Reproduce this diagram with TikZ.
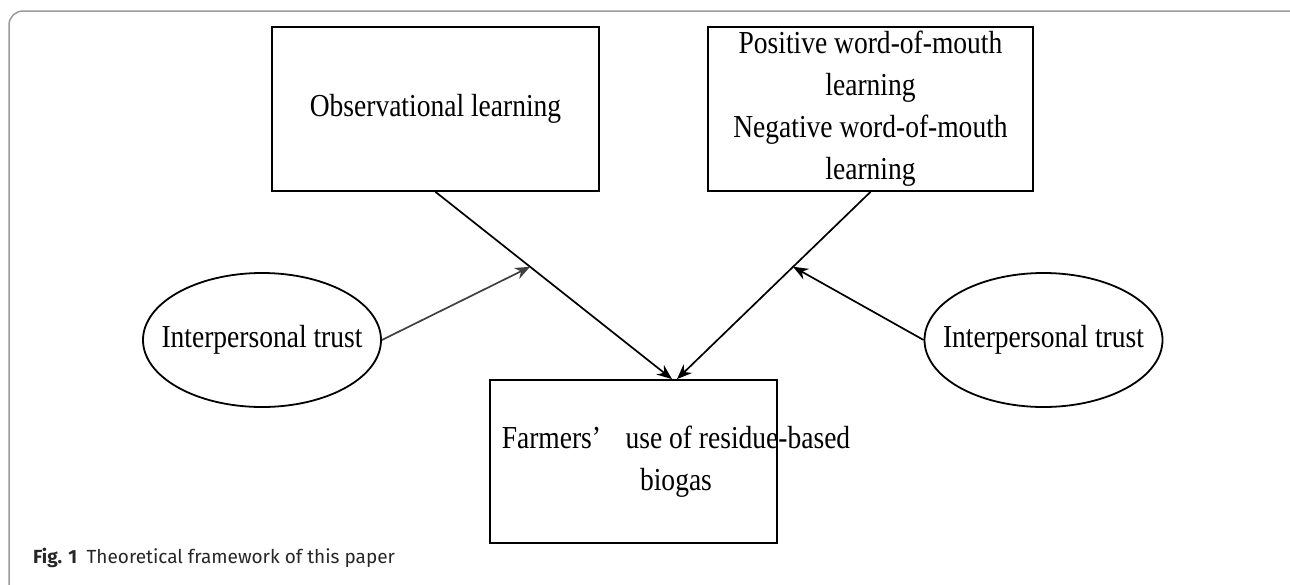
\documentclass[tikz,border=0pt]{standalone}
\usepackage{fontspec}
\setmainfont{Liberation Serif}[FakeStretch=0.86]
\newfontfamily\capfont{Fira Sans}
\usetikzlibrary{shapes.geometric,arrows.meta}
\tikzset{
  boxstyle/.style={draw, line width=1.8pt, inner sep=0pt},
  ellstyle/.style={draw, ellipse, line width=1.8pt, inner sep=0pt, minimum width=238pt, minimum height=134pt},
  txt/.style={align=center, font=\fontsize{32}{42}\selectfont, inner sep=0pt},
  mainarrow/.style={line width=1.7pt, -{Stealth[length=15pt,width=12pt]}},
  trustarrow/.style={line width=1.7pt, -{Stealth[length=15pt,width=12pt]}},
}
\begin{document}
\begin{tikzpicture}[x=1pt,y=-1pt]
\useasboundingbox (0,0) rectangle (1290,584);
\draw[gray!80, line width=1.5pt, rounded corners=14pt] (9,11) rectangle (1304,598);
\node[boxstyle, minimum width=327pt, minimum height=164pt, txt] (obs) at (435.5,109) {Observational learning};
\node[boxstyle, minimum width=325pt, minimum height=164pt, txt] (wom) at (870.5,109) {Positive word-of-mouth\\learning\\Negative word-of-mouth\\learning};
\node[boxstyle, minimum width=287pt, minimum height=163pt] (farm) at (633.5,461.5) {};
\node[txt] (farmlbl) at (676,462) {Farmers’\hspace{0.55em} use of residue-based\\biogas};
\node[ellstyle] (trustL) at (262,340) {};
\node[txt] (trustLlbl) at (trustL) {Interpersonal trust};
\node[ellstyle] (trustR) at (1043.5,340) {};
\node[txt] (trustRlbl) at (trustR) {Interpersonal trust};
\draw[mainarrow] (obs.south) -- coordinate[pos=0.4] (m1) ([xshift=38.5pt]farm.north);
\draw[mainarrow] (wom.south) -- coordinate[pos=0.4] (m2) ([xshift=43.5pt]farm.north);
\draw[trustarrow, black!75] (trustL.east) -- (m1);
\draw[trustarrow, black] (trustR.west) -- (m2);
\node[anchor=base west, inner sep=0pt, font=\capfont\fontsize{19}{22}\selectfont, text=black!85] (cap) at (33,563) {\textbf{Fig. 1}\hspace{0.5em}Theoretical framework of this paper};
\end{tikzpicture}
\end{document}
